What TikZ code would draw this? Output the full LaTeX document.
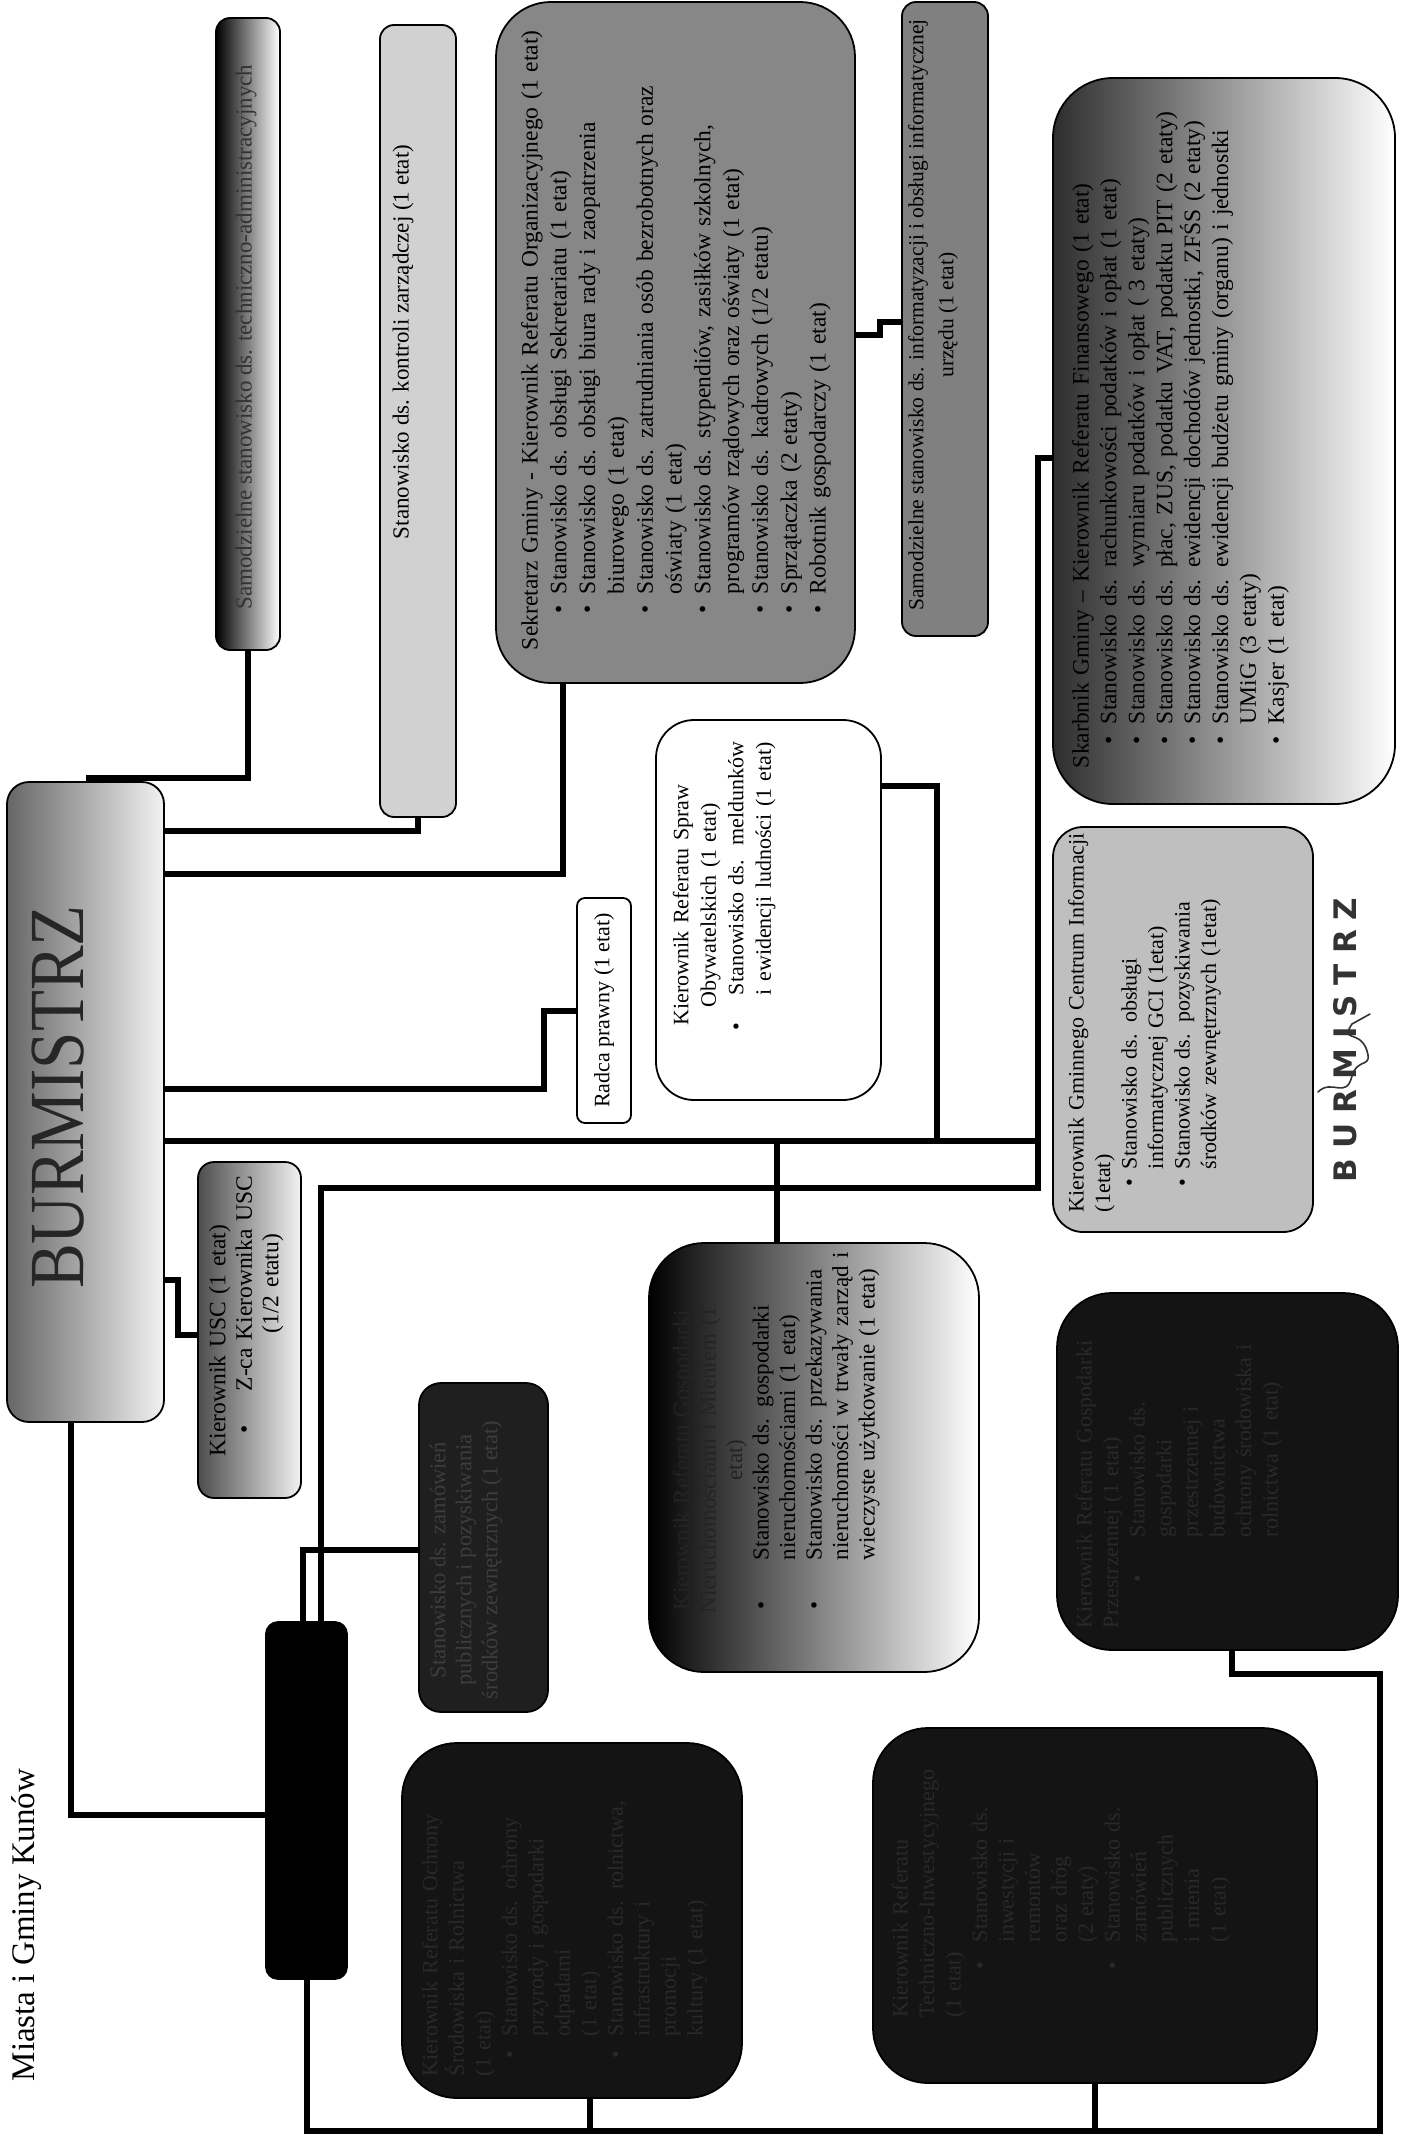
\documentclass[tikz,border=0pt]{standalone}
\usepackage{fontspec}
\setmainfont{Liberation Serif}
\newfontfamily\stampfont{DejaVu Sans}
\usepackage{graphicx}
\newcommand\bitem[3]{\par\noindent\makebox[#1][l]{\hspace*{#2}\textbullet}#3}
\newcommand\cont[1]{\newline\hspace*{#1}}
\begin{document}
\begin{tikzpicture}[x=1pt,y=-1pt,
  bx/.style={draw=black, line width=1.8pt, inner sep=0pt, outer sep=0pt},
  conn/.style={line width=5.5pt, line join=miter, black},
  tx/.style={rotate=90, inner sep=0pt, outer sep=0pt, align=left, anchor=north west},
  txc/.style={rotate=90, inner sep=0pt, outer sep=0pt, align=center, anchor=center}]
\fill[white] (0,0) rectangle (1406,2142);
\useasboundingbox (0,0) rectangle (1406,2142);

% ---------- boxes ----------
\node[bx, rounded corners=22pt, minimum width=157pt, minimum height=640pt, left color=black!60, right color=black!5] (burm) at (85.5,1102) {};
\node[bx, rounded corners=14pt, minimum width=64pt, minimum height=632pt, left color=black, right color=white] (A) at (248,334) {};
\node[bx, rounded corners=14pt, minimum width=76pt, minimum height=792pt, fill=black!18] (B) at (418,421) {};
\node[bx, rounded corners=55pt, minimum width=359pt, minimum height=681pt, fill=black!47] (C) at (675.5,342.5) {};
\node[bx, rounded corners=14pt, minimum width=86pt, minimum height=634pt, fill=black!50] (D) at (945,319) {};
\node[bx, rounded corners=60pt, minimum width=342pt, minimum height=726pt, left color=black!82, middle color=black!35, right color=white] (E) at (1224,441) {};
\node[bx, rounded corners=8pt, minimum width=54pt, minimum height=225pt, fill=white] (R) at (604,1010.5) {};
\node[bx, rounded corners=38pt, minimum width=225pt, minimum height=380pt, fill=white] (SO) at (768.5,910) {};
\node[bx, rounded corners=30pt, minimum width=260pt, minimum height=405pt, fill=black!25] (CI) at (1183,1029.5) {};
\node[bx, rounded corners=16pt, minimum width=103pt, minimum height=336pt, left color=black!70, right color=black!5] (USC) at (249.5,1330) {};
\node[bx, rounded corners=55pt, minimum width=330pt, minimum height=429pt, left color=black, middle color=black!50, right color=white] (G) at (814,1457.5) {};
\node[bx, rounded corners=22pt, minimum width=129pt, minimum height=329pt, fill=black!88] (P) at (483.5,1547.5) {};
\node[bx, rounded corners=12pt, minimum width=81pt, minimum height=357pt, fill=black] (Z) at (306.5,1800.5) {};
\node[bx, rounded corners=55pt, minimum width=340pt, minimum height=355pt, fill=black!92] (O) at (572,1920.5) {};
\node[bx, rounded corners=55pt, minimum width=444pt, minimum height=355pt, fill=black!92] (T) at (1095,1905.5) {};
\node[bx, rounded corners=55pt, minimum width=341pt, minimum height=357pt, fill=black!92] (GP) at (1227.5,1471.5) {};

% ---------- connectors ----------
\draw[conn] (A.south) |- ([yshift=4pt]burm.north);
\draw[conn] (B.south) |- (burm.east |- 0,831);
\draw[conn] (563,0 |- C.south) |- (burm.east |- 0,874);
\draw[conn] (C.east |- 0,335) -- (880,335) -- (880,322) -- (D.west |- 0,322);
\draw[conn] (burm.east |- 0,1089) -| (544,1011) -- (R.west |- 0,1011);
\draw[conn] (burm.east |- 0,1141) -- (1038,1141);
\draw[conn] (E.west |- 0,458) -| (1038,1188) -- (321,1188) -- (321,0 |- Z.north);
\draw[conn] (SO.east |- 0,786) -| (937,1141);
\draw[conn] (777,1141) -- (777,0 |- G.north);
\draw[conn] (burm.east |- 0,1280) -| (178,1335) -- (USC.west |- 0,1335);
\draw[conn] (71,0 |- burm.south) |- (Z.west |- 0,1815);
\draw[conn] (303,0 |- Z.north) |- (P.west |- 0,1550);
\draw[conn] (307,0 |- Z.south) |- (1380,2131) |- (1232,1674) -- (1232,0 |- GP.south);
\draw[conn] (590,0 |- O.south) -- (590,2131);
\draw[conn] (1095,0 |- T.south) -- (1095,2131);

% ---------- texts ----------
\node[rotate=90, inner sep=0pt, text=black!85] (burmT) at (58,1097) {\scalebox{0.86}[1]{\fontsize{78}{78}\selectfont BURMISTRZ}};

\node[txc, text=black!80, font=\fontsize{23}{28}\selectfont] (AT) at (246,337) {Samodzielne stanowisko ds. techniczno-administracyjnych};

\node[txc, font=\fontsize{23}{28}\selectfont] (BT) at (403,342) {Stanowisko ds. kontroli zarządczej (1 etat)};

\node[tx, text width=640pt, font=\fontsize{23.5}{28.8}\selectfont] (CT) at (521,650) {\noindent Sekretarz Gminy - Kierownik Referatu Organizacyjnego (1 etat)
\bitem{56pt}{37pt}{Stanowisko ds. obsługi Sekretariatu (1 etat)}
\bitem{56pt}{37pt}{Stanowisko ds. obsługi biura rady i zaopatrzenia\cont{56pt}biurowego (1 etat)}
\bitem{56pt}{37pt}{Stanowisko ds. zatrudniania osób bezrobotnych oraz\cont{56pt}oświaty (1 etat)}
\bitem{56pt}{37pt}{Stanowisko ds. stypendiów, zasiłków szkolnych,\cont{56pt}programów rządowych oraz oświaty (1 etat)}
\bitem{56pt}{37pt}{Stanowisko ds. kadrowych (1/2 etatu)}
\bitem{56pt}{37pt}{Sprzątaczka (2 etaty)}
\bitem{56pt}{37pt}{Robotnik gospodarczy (1 etat)}};

\node[txc, font=\fontsize{21.5}{30}\selectfont] (DT) at (933,315) {Samodzielne stanowisko ds. informatyzacji i obsługi informatycznej\\urzędu (1 etat)};

\node[tx, text width=720pt, font=\fontsize{23.5}{27.9}\selectfont] (ET) at (1072,768) {\noindent Skarbnik Gminy – Kierownik Referatu Finansowego (1 etat)
\bitem{44pt}{24pt}{Stanowisko ds. rachunkowości podatków i opłat (1 etat)}
\bitem{44pt}{24pt}{Stanowisko ds. wymiaru podatków i opłat ( 3 etaty)}
\bitem{44pt}{24pt}{Stanowisko ds. płac, ZUS, podatku VAT, podatku PIT (2 etaty)}
\bitem{44pt}{24pt}{Stanowisko ds. ewidencji dochodów jednostki, ZFŚS (2 etaty)}
\bitem{44pt}{24pt}{Stanowisko ds. ewidencji budżetu gminy (organu) i jednostki\cont{44pt}UMiG (3 etaty)}
\bitem{44pt}{24pt}{Kasjer (1 etat)}};

\node[txc, font=\fontsize{22}{26}\selectfont] (RT) at (R.center) {Radca prawny (1 etat)};

\node[tx, text width=300pt, font=\fontsize{22}{27.5}\selectfont] (SOT) at (673,1030) {\noindent\makebox[250pt][c]{Kierownik Referatu Spraw}\newline\makebox[250pt][c]{Obywatelskich (1 etat)}
\bitem{35pt}{0pt}{Stanowisko ds.\ \ meldunków\cont{35pt}i ewidencji ludności (1 etat)}};

\node[tx, text width=400pt, font=\fontsize{22}{26.5}\selectfont] (CIT) at (1068,1212) {\noindent Kierownik Gminnego Centrum Informacji\newline (1etat)
\bitem{43pt}{26pt}{Stanowisko ds. obsługi\cont{43pt}informatycznej GCI (1etat)}
\bitem{43pt}{26pt}{Stanowisko ds. pozyskiwania\cont{43pt}środków zewnętrznych (1etat)}};

\node[tx, text width=310pt, font=\fontsize{23.5}{26.5}\selectfont] (USCT) at (209,1456) {\noindent Kierownik USC (1 etat)\par
\noindent\makebox[50pt][l]{\hspace*{23pt}\textbullet}\parbox[t]{245pt}{\centering Z-ca Kierownika USC\\(1/2 etatu)}};

\node[tx, text width=380pt, font=\fontsize{23}{26.5}\selectfont] (GT) at (673,1625) {\noindent{\color{black!86}\makebox[330pt][c]{Kierownik Referatu Gospodarki}\newline\makebox[330pt][c]{Nieruchomościami i Mieniem (1}\newline\makebox[330pt][c]{etat)}}
\bitem{65pt}{16pt}{Stanowisko ds. gospodarki\cont{65pt}nieruchomościami (1 etat)}
\bitem{65pt}{16pt}{Stanowisko ds. przekazywania\cont{65pt}nieruchomości w trwały zarząd i\cont{65pt}wieczyste użytkowanie (1 etat)}};

\node[txc, text=black!76, font=\fontsize{22.5}{26}\selectfont] (PT) at (466,1560) {Stanowisko ds. zamówień\\publicznych i pozyskiwania\\środków zewnętrznych (1 etat)};

\node[tx, text width=320pt, text=black!84, font=\fontsize{22}{26.5}\selectfont] (OT) at (422,2076) {\noindent Kierownik Referatu Ochrony\newline Środowiska i Rolnictwa\newline (1 etat)
\bitem{40pt}{18pt}{Stanowisko ds. ochrony\cont{40pt}przyrody i gospodarki\cont{40pt}odpadami\cont{40pt}(1 etat)}
\bitem{40pt}{18pt}{Stanowisko ds. rolnictwa,\cont{40pt}infrastruktury i\cont{40pt}promocji\cont{40pt}kultury (1 etat)}};

\node[tx, text width=300pt, text=black!84, font=\fontsize{22}{26.5}\selectfont] (TT) at (892,2017) {\noindent Kierownik Referatu\newline Techniczno-Inwestycyjnego\newline (1 etat)
\bitem{75pt}{48pt}{Stanowisko ds.\cont{75pt}inwestycji i\cont{75pt}remontów\cont{75pt}oraz dróg\cont{75pt}(2 etaty)}
\bitem{75pt}{48pt}{Stanowisko ds.\cont{75pt}zamówień\cont{75pt}publicznych\cont{75pt}i mienia\cont{75pt}(1 etat)}};

\node[tx, text width=330pt, text=black!84, font=\fontsize{22}{26.6}\selectfont] (GPT) at (1076,1628) {\noindent Kierownik Referatu Gospodarki\newline Przestrzennej (1 etat)
\bitem{91pt}{46pt}{Stanowisko ds.\cont{91pt}gospodarki\cont{91pt}przestrzennej i\cont{91pt}budownictwa\cont{91pt}ochrony środowiska i\cont{91pt}rolnictwa (1 etat)}};

% stamp and signature
\node[rotate=90, inner sep=0pt, text=black!80, font=\stampfont\bfseries\fontsize{31}{31}\selectfont] (stamp) at (1345,1040) {B\hspace{10pt}U\hspace{10pt}R\hspace{10pt}M\hspace{10pt}I\hspace{10pt}S\hspace{10pt}T\hspace{10pt}R\hspace{10pt}Z};
\draw[line width=1.6pt, black!80, line cap=round] (1318,1092) .. controls (1332,1078) and (1346,1100) .. (1352,1076) .. controls (1358,1056) and (1374,1070) .. (1366,1048) .. controls (1358,1030) and (1340,1042) .. (1352,1024) -- (1370,1014);

\node[rotate=90, inner sep=0pt, font=\fontsize{33}{33}\selectfont] (title) at (27,1925) {Miasta i Gminy Kunów};
\end{tikzpicture}
\end{document}
